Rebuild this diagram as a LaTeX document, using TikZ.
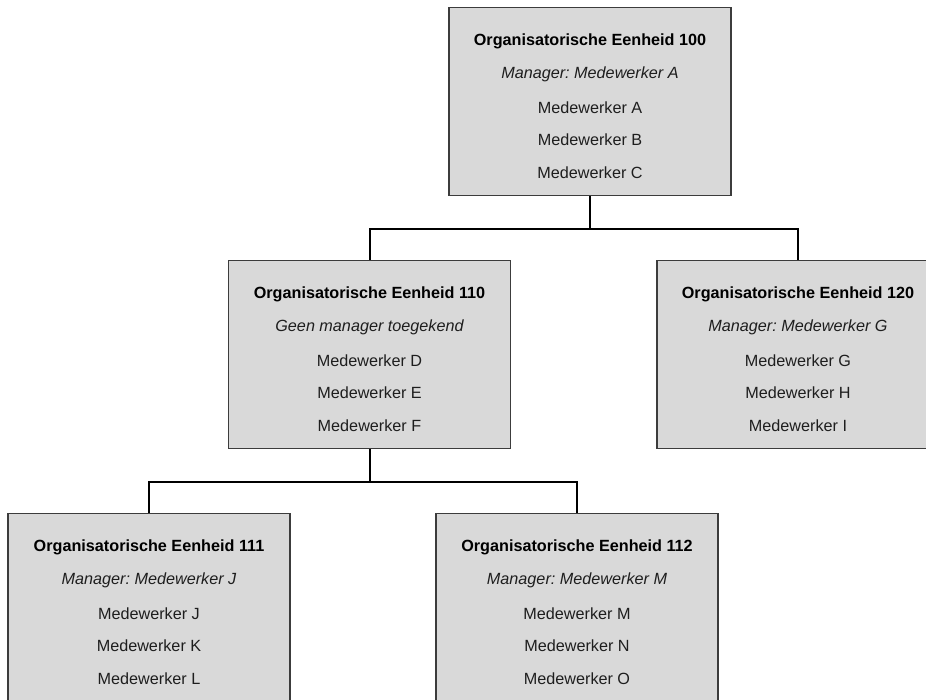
\documentclass[tikz,border=0pt]{standalone}
\usepackage{fontspec}
\setmainfont{Liberation Sans}
\frenchspacing
\definecolor{boxfill}{HTML}{D9D9D9}
\definecolor{boxline}{HTML}{3C3C3C}
\definecolor{txt}{HTML}{1E1E1E}
\tikzset{
  unitbox/.style={draw=boxline, line width=1.4pt, fill=boxfill, minimum width=282pt, minimum height=188pt, inner sep=0pt, anchor=north},
  linetext/.style={font=\fontsize{16.2}{19}\selectfont, text=txt, inner sep=0pt, anchor=center},
  titletext/.style={linetext, font=\fontsize{16.2}{19}\selectfont\bfseries, text=black},
  mgrtext/.style={linetext, font=\fontsize{16.2}{19}\selectfont\itshape},
  conn/.style={draw=black, line width=2pt}
}
\newcommand{\orgunit}[8]{%
  \node[unitbox] (#1) at (#2,#3) {};
  \node[titletext] (#1t) at ([yshift=-34.5pt]#1.north) {#4};
  \node[mgrtext] (#1m) at ([yshift=-67pt]#1.north) {#5};
  \node[linetext] (#1a) at ([yshift=-100.5pt]#1.north) {#6};
  \node[linetext] (#1b) at ([yshift=-132.5pt]#1.north) {#7};
  \node[linetext] (#1c) at ([yshift=-165.5pt]#1.north) {#8};
}
\begin{document}
\begin{tikzpicture}[x=1pt,y=-1pt]
\useasboundingbox (0,0) rectangle (926,700);
\clip (0,0) rectangle (926,700);
\fill[white] (0,0) rectangle (926,700);
\orgunit{u100}{590}{7}{Organisatorische Eenheid 100}{Manager: Medewerker A}{Medewerker A}{Medewerker B}{Medewerker C}
\orgunit{u110}{369.5}{260}{Organisatorische Eenheid 110}{Geen manager toegekend}{Medewerker D}{Medewerker E}{Medewerker F}
\orgunit{u120}{798}{260}{Organisatorische Eenheid 120}{Manager: Medewerker G}{Medewerker G}{Medewerker H}{Medewerker I}
\orgunit{u111}{149}{513}{Organisatorische Eenheid 111}{Manager: Medewerker J}{Medewerker J}{Medewerker K}{Medewerker L}
\orgunit{u112}{577}{513}{Organisatorische Eenheid 112}{Manager: Medewerker M}{Medewerker M}{Medewerker N}{Medewerker O}
\draw[conn] (u100.south) -- ++(0,33) -| (u110.north);
\draw[conn] (u100.south) -- ++(0,33) -| (u120.north);
\draw[conn] (u110.south) -- ++(0,33) -| (u111.north);
\draw[conn] (u110.south) -- ++(0,33) -| (u112.north);
\end{tikzpicture}
\end{document}
